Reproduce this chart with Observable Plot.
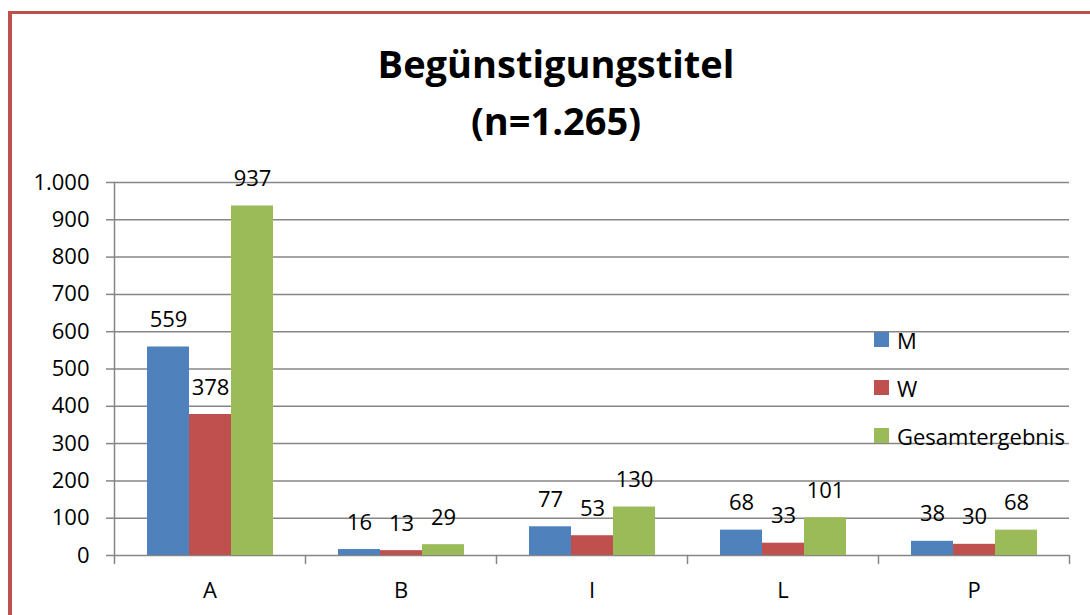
<!DOCTYPE html>
<html>
<head>
<meta charset="utf-8">
<script src="https://cdn.jsdelivr.net/npm/d3@7"></script>
<script src="https://cdn.jsdelivr.net/npm/@observablehq/plot@0.6"></script>
<style>
  html, body { margin: 0; padding: 0; background: #fff; }
  #wrap { position: relative; width: 1090px; height: 615px; overflow: hidden; font-family: "Open Sans", sans-serif; }
  #border { position: absolute; left: 8px; top: 11px; width: 1200px; height: 700px; border-left: 4px solid #c0504d; border-top: 3.5px solid #c0504d; box-sizing: border-box; }
  #chart { position: absolute; left: 0; top: 0; }
  .title { position: absolute; left: 356px; width: 400px; text-align: center; font-weight: bold; font-size: 38px; line-height: 1; color: #000; white-space: nowrap; }
  .leg { position: absolute; left: 874px; height: 15px; display: flex; align-items: center; font-size: 22px; color: #000; white-space: nowrap; }
  .leg span.sw { display: inline-block; width: 15px; height: 15px; margin-right: 8px; }
</style>
</head>
<body>
<div id="wrap">
  <div id="chart"></div>
  <div id="border"></div>
</div>
<script>
const titleLines = ["Begünstigungstitel", "(n=1.265)"];
const categories = ["A", "B", "I", "L", "P"];
const series = ["M", "W", "Gesamtergebnis"];
const colors = ["#4f81bd", "#c0504d", "#9bbb59"];
const valuesM = [559, 16, 77, 68, 38];
const valuesW = [378, 13, 53, 33, 30];
const valuesG = [937, 29, 130, 101, 68];
const yTicks = [0, 100, 200, 300, 400, 500, 600, 700, 800, 900, 1000];

const seriesValues = [valuesM, valuesW, valuesG];
const data = [];
categories.forEach((c, i) => {
  series.forEach((s, j) => data.push({cat: c, series: s, value: seriesValues[j][i]}));
});

const de = d3.formatLocale({decimal: ",", thousands: ".", grouping: [3], currency: ["", "€"]});
const fmt = de.format(",");

const gridColor = "#868686";
const tickShape = {draw(context, l) { context.moveTo(0, 0); context.lineTo(0, -l); }};

const chart = Plot.plot({
  width: 1090,
  height: 615,
  marginLeft: 113,
  marginRight: 20,
  marginTop: 182,
  marginBottom: 60,
  style: {fontFamily: "Open Sans", fontSize: "22px", color: "#000", background: "transparent"},
  fx: {domain: categories, padding: 0, label: null},
  x: {domain: series, paddingInner: 0, paddingOuter: 0.75, axis: null},
  y: {domain: [0, 1000], label: null},
  color: {domain: series, range: colors},
  marks: [
    Plot.ruleY(yTicks, {stroke: gridColor, strokeWidth: 1.5, strokeOpacity: 1}),
    Plot.frame({anchor: "left", facetAnchor: "left", stroke: gridColor, strokeWidth: 1.5, strokeOpacity: 1}),
    Plot.vector(categories, {fx: d => d, frameAnchor: "bottom-left", length: 8, rotate: 180, anchor: "start", shape: tickShape, stroke: gridColor, strokeWidth: 1.5}),
    Plot.vector(categories.slice(-1), {fx: d => d, frameAnchor: "bottom-right", length: 8, rotate: 180, anchor: "start", shape: tickShape, stroke: gridColor, strokeWidth: 1.5}),
    Plot.axisY({ticks: yTicks, tickFormat: fmt, tickSize: 8, tickPadding: 17, stroke: gridColor, strokeWidth: 1.5, strokeOpacity: 1, fontSize: 22, label: null}),
    Plot.axisFx({anchor: "bottom", tickSize: 0, tickPadding: 27, fontSize: 22, label: null}),
    Plot.barY(data, {fx: "cat", x: "series", y: "value", fill: "series"}),
    Plot.text(data, {fx: "cat", x: "series", y: "value", text: d => String(d.value), dy: -27, fontSize: 22, fill: "#000"})
  ]
});
document.getElementById("chart").appendChild(chart);

const wrap = document.getElementById("wrap");
titleLines.forEach((t, i) => {
  const d = document.createElement("div");
  d.className = "title";
  d.textContent = t;
  d.style.top = (i === 0 ? 44 : 101) + "px";
  wrap.appendChild(d);
});
const legTops = [332, 380, 428];
series.forEach((s, i) => {
  const d = document.createElement("div");
  d.className = "leg";
  d.style.top = legTops[i] + "px";
  const sw = document.createElement("span");
  sw.className = "sw";
  sw.style.background = colors[i];
  d.appendChild(sw);
  d.appendChild(document.createTextNode(s));
  wrap.appendChild(d);
});
</script>
</body>
</html>
